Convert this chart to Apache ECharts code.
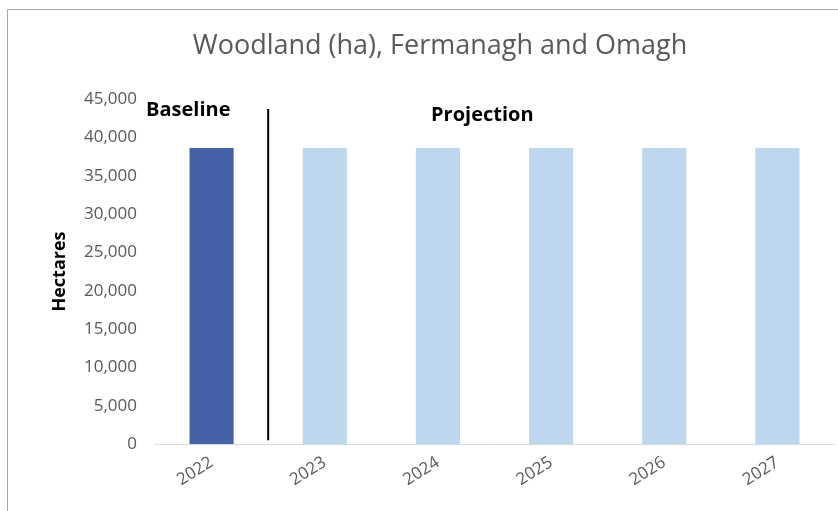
<!DOCTYPE html>
<html><head><meta charset="utf-8">
<script src="https://cdn.jsdelivr.net/npm/echarts@6/dist/echarts.min.js"></script>
<style>html,body{margin:0;padding:0;background:#fff}#c{width:838px;height:511px}</style>
</head><body><div id="c"></div>
<script>
const categories = ['2022','2023','2024','2025','2026','2027'];
const hectares = [38600, 38600, 38600, 38600, 38600, 38600];
const yTicks = [0, 5000, 10000, 15000, 20000, 25000, 30000, 35000, 40000, 45000];
// divider between baseline and projection, at the boundary after the first category
const dividerX = [1, 1];
const dividerY = [500, 43700];

const chart = echarts.init(document.getElementById('c'));
const font = '"Open Sans", "Liberation Sans", sans-serif';
chart.setOption({
  animation: false,
  title: {
    text: 'Woodland (ha), Fermanagh and Omagh',
    left: 435, top: 28, textAlign: 'center',
    textStyle: { fontFamily: font, fontSize: 27, fontWeight: 'normal', color: '#595959' }
  },
  grid: { left: 155, right: 4, top: 99, bottom: 67 },
  xAxis: [{
    type: 'category', data: categories,
    axisLine: { lineStyle: { color: '#d9d9d9', width: 1 } },
    axisTick: { show: false },
    axisLabel: { rotate: 32, color: '#595959', fontFamily: font, fontSize: 17, margin: 17 }
  }, {
    type: 'value', min: 0, max: categories.length, show: false
  }],
  yAxis: {
    type: 'value', min: yTicks[0], max: yTicks[yTicks.length - 1], interval: 5000,
    splitLine: { show: false },
    axisLine: { show: false }, axisTick: { show: false },
    axisLabel: { color: '#595959', fontFamily: font, fontSize: 17, margin: 18,
      formatter: v => v.toLocaleString('en-US') },
    name: 'Hectares', nameLocation: 'middle', nameGap: 86, nameRotate: 90,
    nameTextStyle: { color: '#000', fontFamily: font, fontWeight: 'bold', fontSize: 18 }
  },
  series: [{
    type: 'bar', data: hectares.map((v, i) => ({ value: v, itemStyle: { color: i === 0 ? '#4562a8' : '#bdd7ee' } })),
    barCategoryGap: '61%'
  }, {
    type: 'line', xAxisIndex: 1, silent: true, symbol: 'none',
    data: dividerX.map((x, i) => [x, dividerY[i]]),
    lineStyle: { color: '#000', width: 2 }
  }],
  graphic: [
    { type: 'rect', shape: { x: 7.5, y: 9.5, width: 900, height: 600 }, style: { fill: 'none', stroke: '#a6a6a6', lineWidth: 1 }, silent: true },
    { type: 'text', left: 146, top: 100, style: { text: 'Baseline', font: 'bold 20px ' + font, fill: '#000' } },
    { type: 'text', left: 431, top: 105, style: { text: 'Projection', font: 'bold 20px ' + font, fill: '#000' } }
  ]
});
</script></body></html>
